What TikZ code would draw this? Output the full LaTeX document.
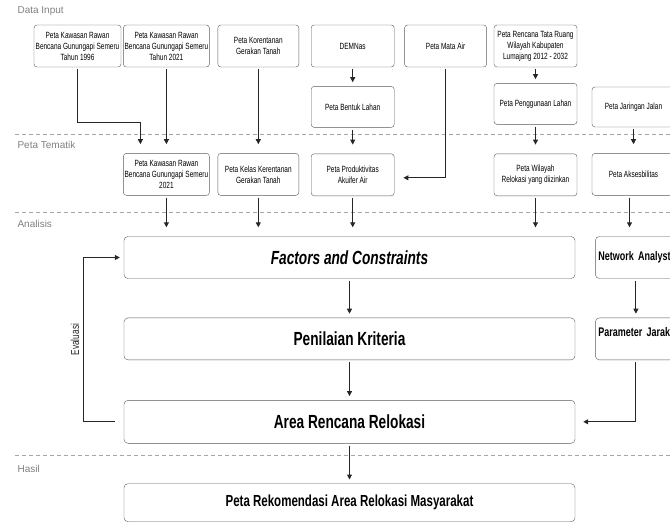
\documentclass[tikz,border=0pt]{standalone}
\usepackage{fontspec}
\setmainfont{Liberation Sans}
\newfontfamily\narrowfont[FakeStretch=0.72]{Liberation Sans}
\usetikzlibrary{arrows.meta,positioning}

\begin{document}
\begin{tikzpicture}[x=1pt,y=-1pt,
box/.style={draw=black!65,rounded corners=3pt,align=center,inner sep=1pt,minimum width=83pt,minimum height=42pt,font=\narrowfont\fontsize{9}{11}\selectfont},
main/.style={draw=black!65,rounded corners=4pt,minimum width=451pt,minimum height=42pt,font=\narrowfont\bfseries\fontsize{19}{22}\selectfont},
side/.style={main,minimum width=85pt,text width=79pt,inner xsep=3pt,align=left,font=\narrowfont\bfseries\fontsize{12.5}{15}\selectfont},
arr/.style={-{Triangle[length=5pt,width=5pt]},line width=1pt,black!85,shorten <=2pt,shorten >=4pt},
arrlong/.style={arr,shorten >=9pt},
sep/.style={black!35,line width=0.8pt,dash pattern=on 4pt off 3pt},
zone/.style={anchor=west,text=black!50,font=\fontsize{10}{12}\selectfont}]
\useasboundingbox (0,0) rectangle (670,522);
\clip (0,0) rectangle (670,522);
% stages
\draw[sep] (15,134) -- (670,134);
\draw[sep] (15,212) -- (670,212);
\draw[sep] (15,455) -- (670,455);
\node[zone] (zinput) at (14,11) {Data Input};
\node[zone] (ztema) at (14,145) {Peta Tematik};
\node[zone] (zanalisis) at (14,224) {Analisis};
\node[zone] (zhasil) at (14,469) {Hasil};
% data input
\node[box,minimum width=87pt] (kr96) at (77.5,46) {Peta Kawasan Rawan\\Bencana Gunungapi Semeru\\Tahun 1996};
\node[box,minimum width=86pt,right=2pt of kr96] (kr21) {Peta Kawasan Rawan\\Bencana Gunungapi Semeru\\Tahun 2021};
\node[box,minimum width=81pt,right=8pt of kr21] (rentan) {Peta Korentanan\\Gerakan Tanah};
\node[box,right=12pt of rentan] (dem) {DEMNas};
\node[box,minimum width=82pt,right=10pt of dem] (mata) {Peta Mata Air};
\node[box,right=7pt of mata] (rtrw) {Peta Rencana Tata Ruang\\Wilayah Kabupaten\\Lumajang 2012 - 2032};
\node[box,minimum height=41pt,below=19pt of dem] (bentuk) {Peta Bentuk Lahan};
\node[box,minimum height=41pt,below=16pt of rtrw] (guna) {Peta Penggunaan Lahan};
\node[box,minimum height=40pt] (jalan) at (633.5,107) {Peta Jaringan Jalan};
% peta tematik
\node[box,minimum width=86pt,below=86pt of kr21] (krb) {Peta Kawasan Rawan\\Bencana Gunungapi Semeru\\2021};
\node[box,minimum width=81pt,below=86pt of rentan] (kelas) {Peta Kelas Kerentanan\\Gerakan Tanah};
\node[box,below=26pt of bentuk] (akuifer) {Peta Produktivitas\\Akuifer Air};
\node[box,below=29pt of guna] (izin) {Peta Wilayah\\Relokasi yang diizinkan};
\node[box,below=26pt of jalan] (akses) {Peta Aksesbilitas};
% analisis
\node[main] (factors) at (349.5,257.5) {\itshape Factors and Constraints};
\node[side,right=20pt of factors] (network) {Network Analyst};
\node[main,below=39pt of factors] (nilai) {Penilaian Kriteria};
\node[side,text depth=13pt,below=39pt of network] (jarak) {Parameter Jarak};
\node[main,minimum height=43pt,below=40pt of nilai] (area) {Area Rencana Relokasi};
\node[main,minimum height=38pt,font=\narrowfont\bfseries\fontsize{16}{19}\selectfont,below=40pt of area] (rekom) {Peta Rekomendasi Area Relokasi Masyarakat};
\coordinate (evalx) at (83,0);
% arrows
\draw[arrlong] (kr96.south) -- ++(0,55) -| ([xshift=-26pt]krb.north);
\draw[arrlong] (kr21.south) -- (krb.north);
\draw[arrlong] (rentan.south) -- (kelas.north);
\draw[arr] (dem.south) -- (bentuk.north);
\draw[arrlong] (bentuk.south) -- (akuifer.north);
\draw[arrlong] (mata.south) |- ([yshift=-3pt]akuifer.east);
\draw[arr] (rtrw.south) -- (guna.north);
\draw[arrlong] (guna.south) -- (izin.north);
\draw[arrlong] (jalan.south) -- (akses.north);
\draw[arrlong] (krb.south) -- (krb.south |- factors.north);
\draw[arrlong] (kelas.south) -- (kelas.south |- factors.north);
\draw[arrlong] (akuifer.south) -- (akuifer.south |- factors.north);
\draw[arrlong] (izin.south) -- (izin.south |- factors.north);
\draw[arrlong] ([xshift=-4pt]akses.south) -- ([xshift=-4pt]akses.south |- network.north);
\draw[arr] (factors) -- (nilai);
\draw[arr] (nilai) -- (area);
\draw[arr] (area) -- (rekom);
\draw[arr] ([xshift=-2pt]network.south) -- ([xshift=-2pt]jarak.north);
\draw[arr,shorten >=8pt] ([xshift=-2pt]jarak.south) |- (area.east);
\draw[arr,shorten <=9pt] (area.west) -- (area.west -| evalx) -- node[midway,anchor=south,rotate=90,font=\narrowfont\fontsize{11.5}{13}\selectfont]{Evaluasi} (factors.west -| evalx) -- (factors.west);
\end{tikzpicture}
\end{document}
